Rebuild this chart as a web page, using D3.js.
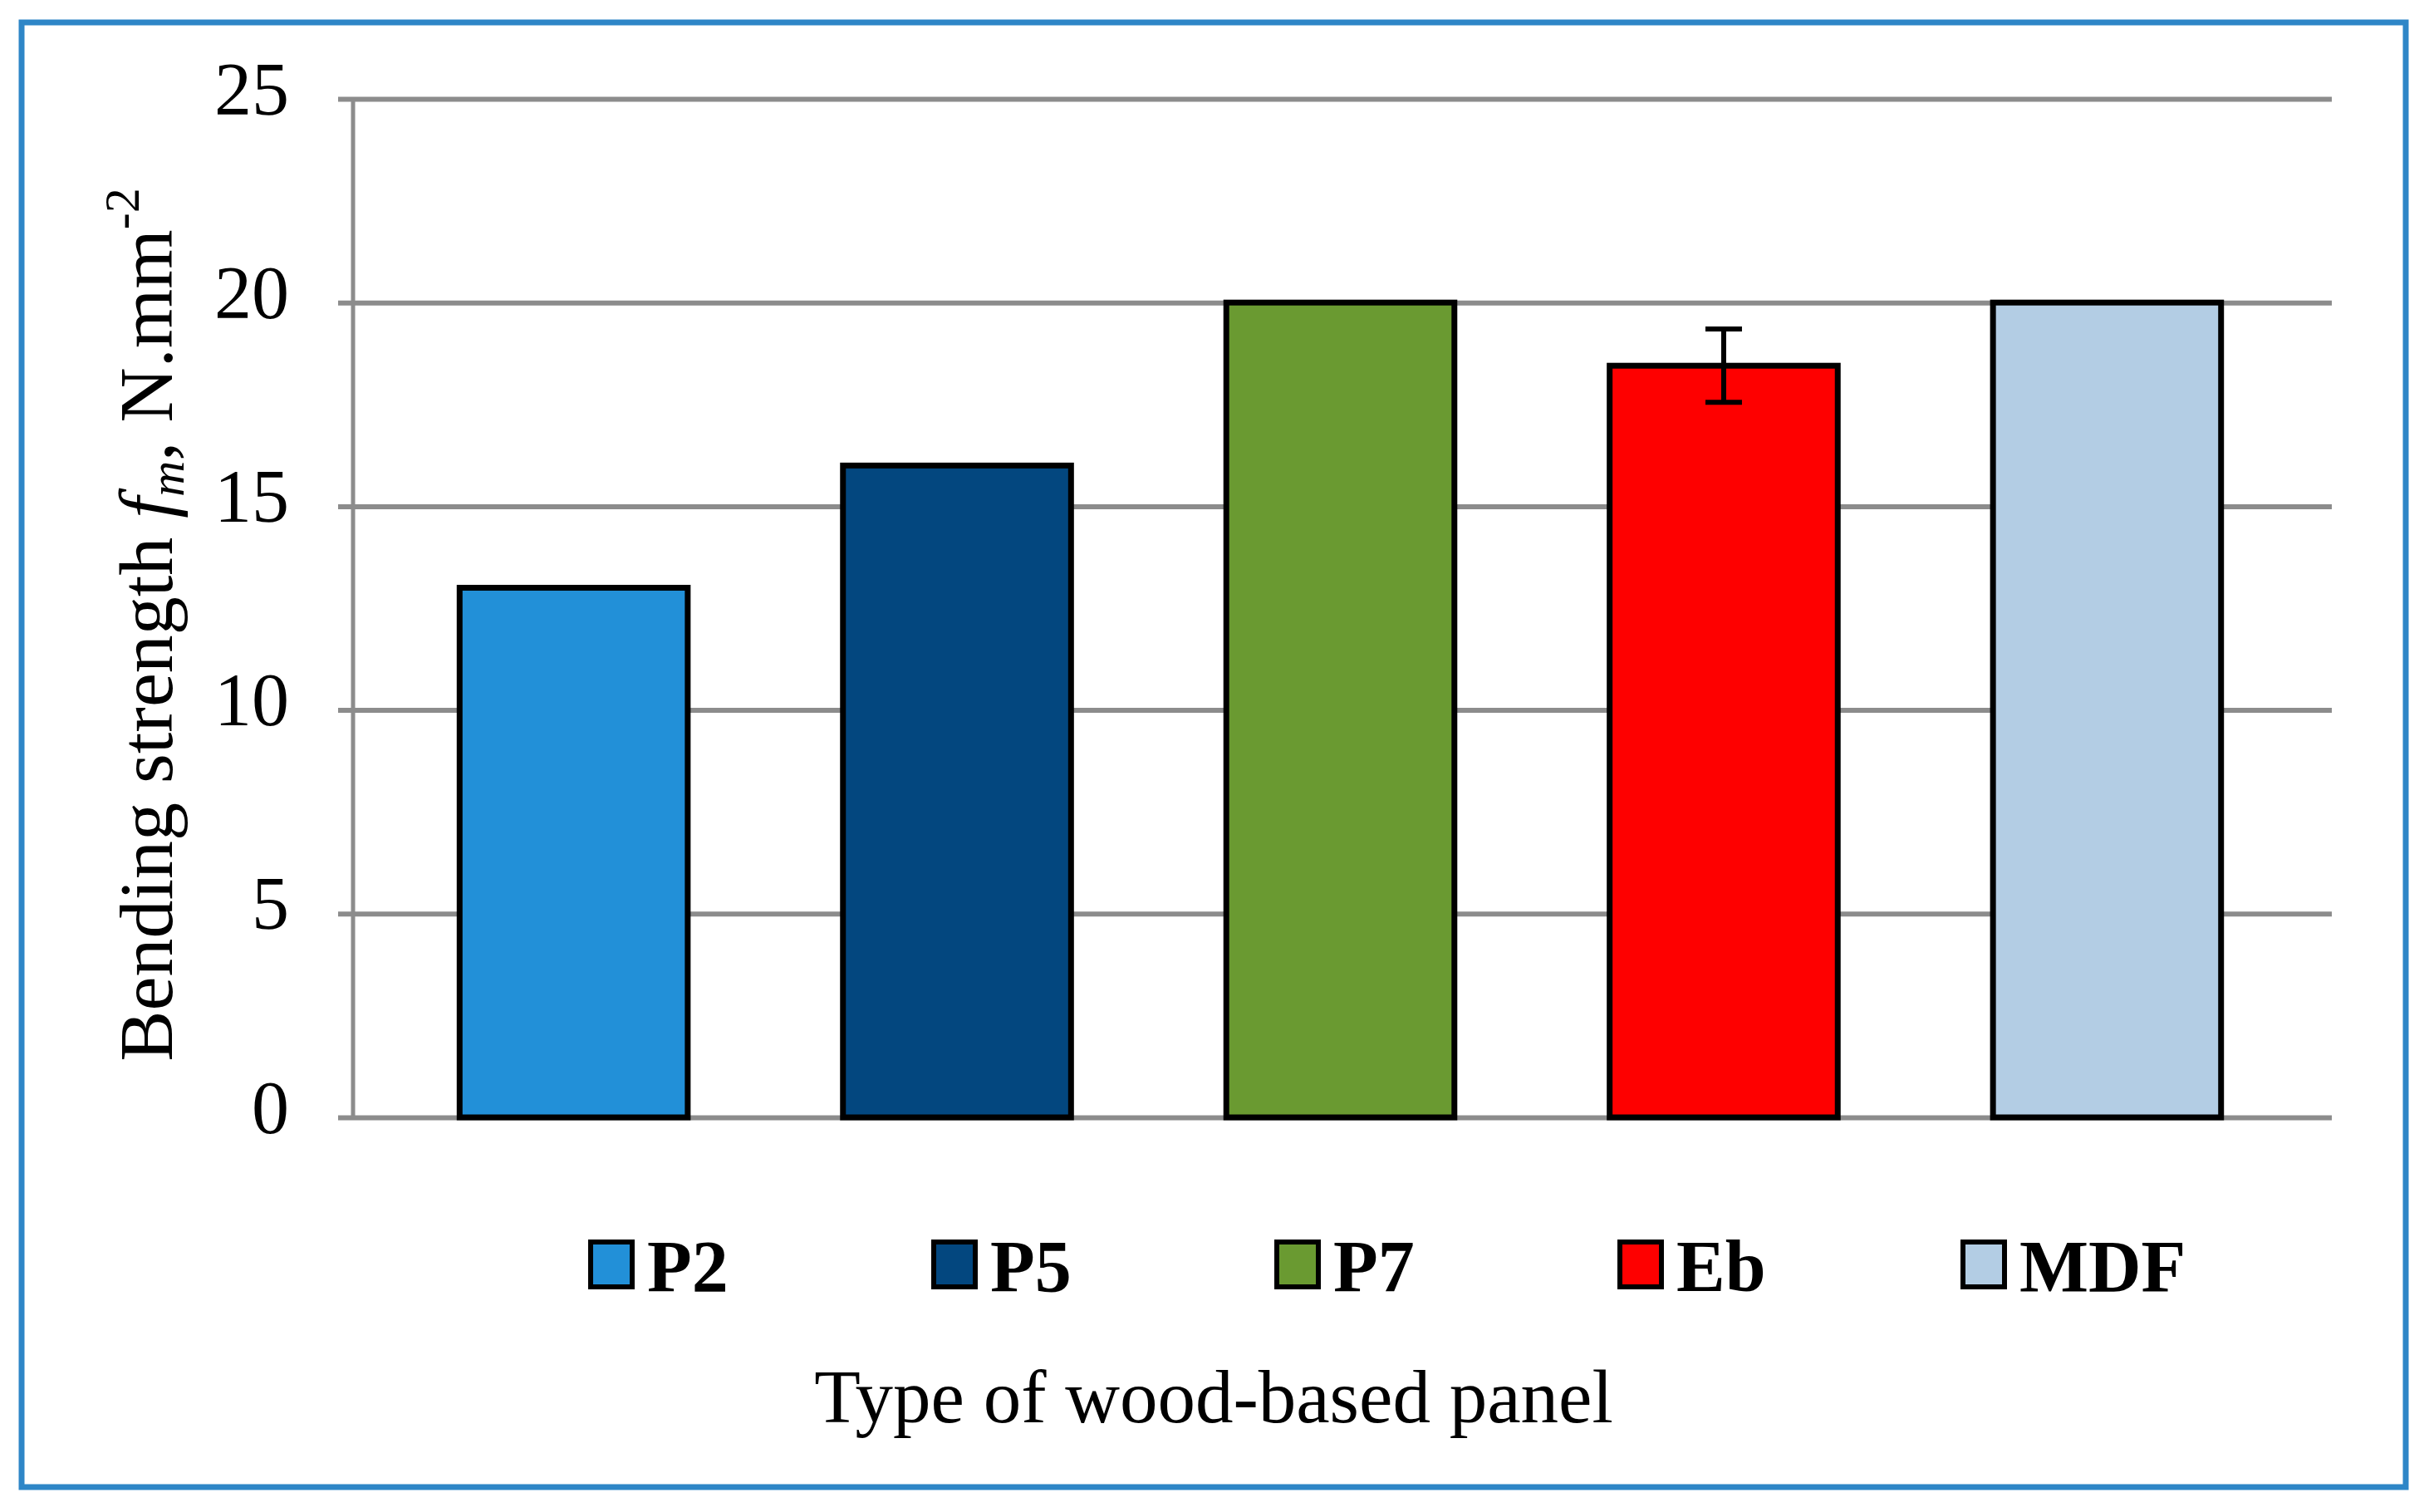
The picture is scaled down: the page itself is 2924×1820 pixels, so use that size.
<!DOCTYPE html>
<html lang="en">
<head>
<meta charset="UTF-8">
<title>Bending strength of wood-based panels</title>
<script src="https://d3js.org/d3.v7.min.js"></script>
<style>
    body { margin: 0; background: #fff; }
    svg text { font-family: "Liberation Serif", "Times New Roman", serif; fill: #000; }
</style>
</head>
<body>
<script>
// data
const panels = ["P2", "P5", "P7", "Eb", "MDF"];
const strength = [13.0, 16.0, 20.0, 18.45, 20.0];
const errors = [null, null, null, 0.9, null];
const colors = ["#2290d8", "#03477f", "#6a9a31", "#fe0000", "#b3cde4"];
const yTicks = [0, 5, 10, 15, 20, 25];

const width = 2924, height = 1820;

const svg = d3.select("body").append("svg")
    .attr("width", width)
    .attr("height", height);

// outer blue frame
svg.append("rect")
    .attr("x", 26).attr("y", 27)
    .attr("width", 2870).attr("height", 1763)
    .attr("fill", "none")
    .attr("stroke", "#2e86c7")
    .attr("stroke-width", 7);

const axisX = 425, gridLeft = 407, gridRight = 2807;

const y = d3.scaleLinear().domain([0, 25]).range([1345, 119]);
const x = d3.scaleBand().domain(panels).range([461, 2766]).paddingInner(0.405).paddingOuter(0.2);

// gridlines + tick labels
const yAxis = svg.append("g")
    .attr("transform", `translate(${gridLeft},0)`)
    .call(d3.axisLeft(y).tickValues(yTicks).tickSize(-(gridRight - gridLeft)).tickPadding(59));

yAxis.select(".domain").remove();
yAxis.selectAll(".tick line")
    .attr("stroke", "#8c8c8c")
    .attr("stroke-width", 6);
yAxis.selectAll(".tick text")
    .attr("font-size", 90)
    .attr("dy", "0.2em")
    .style("font-family", "'Liberation Serif', serif");

// vertical axis line
svg.append("line")
    .attr("x1", axisX).attr("x2", axisX)
    .attr("y1", y(25)).attr("y2", y(0))
    .attr("stroke", "#8c8c8c")
    .attr("stroke-width", 5);

// bars
svg.append("g")
    .selectAll("rect")
    .data(panels)
    .join("rect")
    .attr("x", d => x(d))
    .attr("y", (d, i) => y(strength[i]))
    .attr("width", x.bandwidth())
    .attr("height", (d, i) => y(0) - y(strength[i]))
    .attr("fill", (d, i) => colors[i])
    .attr("stroke", "#000")
    .attr("stroke-width", 7);

// error bars
const capW = 44;
const eb = svg.append("g").attr("stroke", "#000").attr("stroke-width", 6);
panels.forEach((p, i) => {
    if (errors[i] == null) return;
    const cx = x(p) + x.bandwidth() / 2;
    const hi = y(strength[i] + errors[i]), lo = y(strength[i] - errors[i]);
    eb.append("line").attr("x1", cx).attr("x2", cx).attr("y1", hi).attr("y2", lo);
    eb.append("line").attr("x1", cx - capW / 2).attr("x2", cx + capW / 2).attr("y1", hi).attr("y2", hi);
    eb.append("line").attr("x1", cx - capW / 2).attr("x2", cx + capW / 2).attr("y1", lo).attr("y2", lo);
});

// y axis title
const yTitle = svg.append("text")
    .attr("transform", "translate(207,752) rotate(-90)")
    .attr("text-anchor", "middle")
    .attr("font-size", 92);
yTitle.append("tspan").text("Bending strength ");
yTitle.append("tspan").attr("font-style", "italic").text("f");
yTitle.append("tspan").attr("font-style", "italic").attr("font-size", 60).attr("dy", 14).text("m");
yTitle.append("tspan").attr("dy", -14).text(", N.mm");
yTitle.append("tspan").attr("font-size", 60).attr("dy", -40).text("-2");

// legend
const legend = svg.append("g")
    .selectAll("g")
    .data(panels)
    .join("g")
    .attr("transform", (d, i) => `translate(${708 + i * 413},1492)`);

legend.append("rect")
    .attr("x", 3).attr("y", 3)
    .attr("width", 50).attr("height", 54)
    .attr("fill", (d, i) => colors[i])
    .attr("stroke", "#000")
    .attr("stroke-width", 6);

legend.append("text")
    .attr("x", 71).attr("y", 62)
    .attr("font-size", 88)
    .attr("font-weight", "bold")
    .text(d => d);

// x axis title
svg.append("text")
    .attr("x", 1461).attr("y", 1712)
    .attr("text-anchor", "middle")
    .attr("font-size", 91)
    .text("Type of wood-based panel");
</script>
</body>
</html>
